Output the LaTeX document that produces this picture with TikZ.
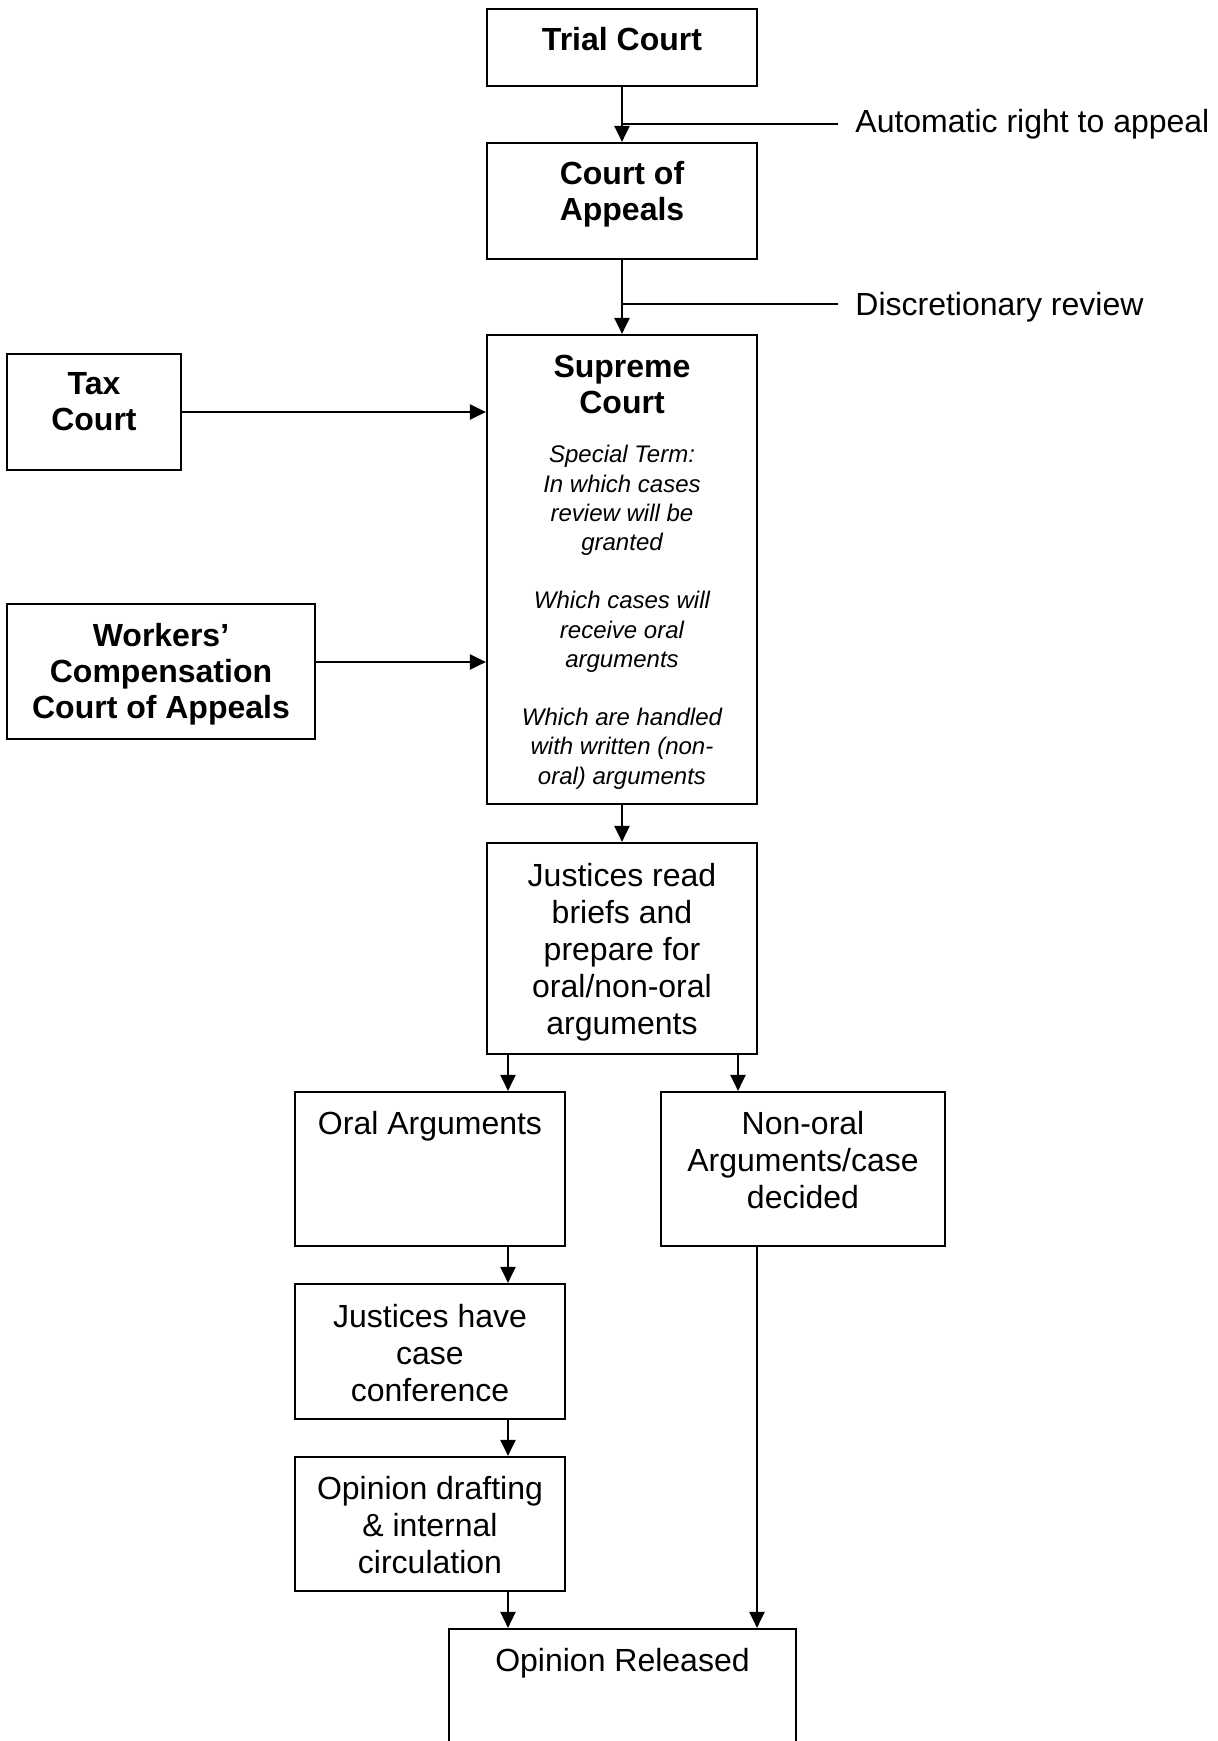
\documentclass[tikz,border=0pt]{standalone}
\usepackage{fontspec}
\setmainfont{Liberation Sans}
\usetikzlibrary{arrows.meta,fit,positioning}
\begin{document}
\begin{tikzpicture}[x=0.5pt,y=-0.5pt,
  box/.style={draw, line width=1.1pt, inner sep=0pt},
  txt/.style={align=center, inner sep=0pt, font=\fontsize{16pt}{18.5pt}\selectfont},
  btxt/.style={align=center, inner sep=0pt, font=\fontsize{16pt}{18pt}\selectfont\bfseries},
  itxt/.style={align=center, inner sep=0pt, font=\fontsize{12pt}{14.6pt}\selectfont\itshape},
  arr/.style={line width=1.1pt, -{Triangle[length=8pt,width=7.5pt]}},
  ln/.style={line width=1.1pt}]
\useasboundingbox (0,0) rectangle (1217,1741);

% boxes
\node[box, fit={(487,9) (757,86)}] (trial) {};
\node[box, fit={(487,143) (757,259)}] (appeals) {};
\node[box, fit={(487,335) (757,804)}] (supreme) {};
\node[box, fit={(7,354) (181,470)}] (tax) {};
\node[box, fit={(7,604) (315,739)}] (workers) {};
\node[box, fit={(487,843) (757,1054)}] (jread) {};
\node[box, fit={(295,1092) (565,1246)}] (oral) {};
\node[box, fit={(661,1092) (945,1246)}] (nonoral) {};
\node[box, fit={(295,1284) (565,1419)}] (have) {};
\node[box, fit={(295,1457) (565,1591)}] (draft) {};
\node[box, fit={(449,1629) (796,1800)}] (released) {};

% texts
\node[btxt, below=9.5pt of trial.north] (trialT) {Trial Court};
\node[btxt, below=9.5pt of appeals.north] (appealsT) {Court of\\Appeals};
\node[btxt, below=10.5pt of supreme.north] (supremeT) {Supreme\\Court};
\node[itxt, anchor=north] (supremeD) at (622,445) {Special Term:\\In which cases\\review will be\\granted\\[14.6pt]Which cases will\\receive oral\\arguments\\[14.6pt]Which are handled\\with written (non-\\oral) arguments};
\node[btxt, below=9.5pt of tax.north] (taxT) {Tax\\Court};
\node[btxt, below=10pt of workers.north] (workersT) {Workers’\\Compensation\\Court of Appeals};
\node[txt, below=10.5pt of jread.north] (jreadT) {Justices read\\briefs and\\prepare for\\oral/non-oral\\arguments};
\node[txt, below=10pt of oral.north] (oralT) {Oral Arguments};
\node[txt, below=10pt of nonoral.north] (nonoralT) {Non-oral\\Arguments/case\\decided};
\node[txt, below=10.5pt of have.north] (haveT) {Justices have\\case\\conference};
\node[txt, below=10pt of draft.north] (draftT) {Opinion drafting\\\& internal\\circulation};
\node[txt, below=10pt of released.north] (releasedT) {Opinion Released};

% side labels
\node[txt, anchor=west] (autoT) at (855,124) {Automatic right to appeal};
\node[txt, anchor=west] (discT) at (855,307) {Discretionary review};
\coordinate (l1) at (838,124);
\coordinate (l2) at (838,304);
\coordinate (cL) at (508,0);
\coordinate (cR) at (738,0);
\coordinate (cN) at (757,0);

% connectors
\draw[arr] (trial.south) -- (appeals.north);
\draw[ln] (l1) -- (l1 -| trial.south);
\draw[arr] (appeals.south) -- (supreme.north);
\draw[ln] (l2) -- (l2 -| appeals.south);
\draw[arr] (tax.east |- 0,412) -- (supreme.west |- 0,412);
\draw[arr] (workers.east |- 0,662) -- (supreme.west |- 0,662);
\draw[arr] (supreme.south) -- (jread.north);
\draw[arr] (jread.south -| cL) -- (oral.north -| cL);
\draw[arr] (jread.south -| cR) -- (nonoral.north -| cR);
\draw[arr] (oral.south -| cL) -- (have.north -| cL);
\draw[arr] (have.south -| cL) -- (draft.north -| cL);
\draw[arr] (draft.south -| cL) -- (released.north -| cL);
\draw[arr] (nonoral.south -| cN) -- (released.north -| cN);
\end{tikzpicture}
\end{document}
